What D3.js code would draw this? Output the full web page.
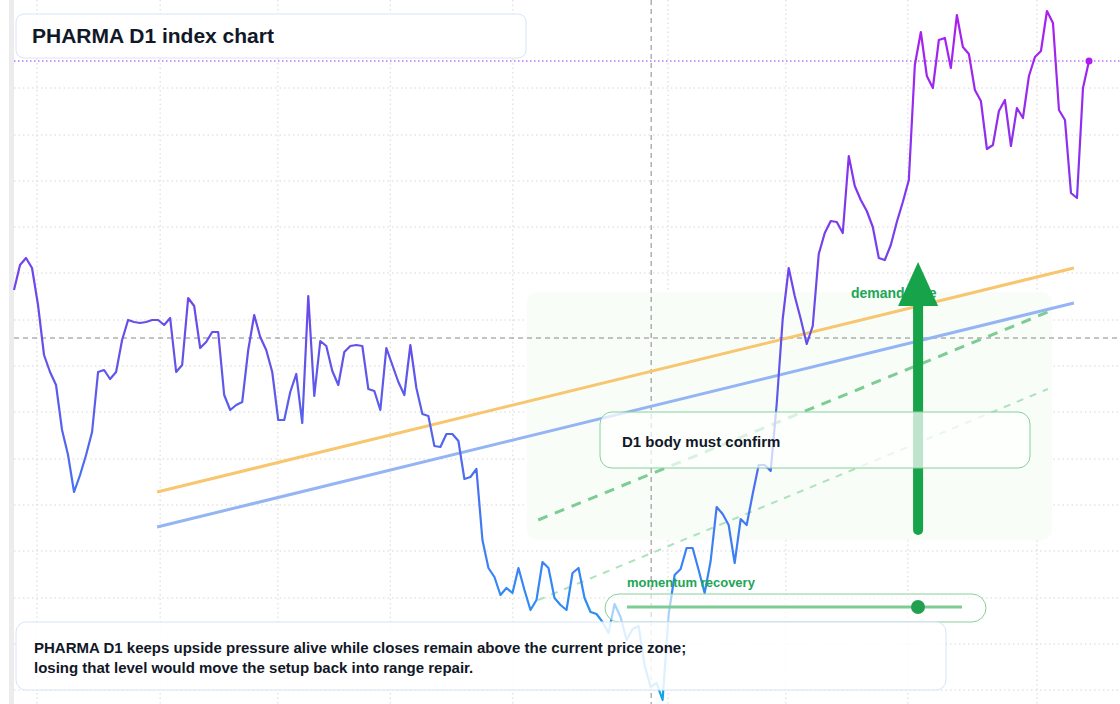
<!DOCTYPE html>
<html>
<head>
<meta charset="utf-8">
<script src="https://cdn.jsdelivr.net/npm/d3@7"></script>
<style>
  body { margin: 0; background: #fff; font-family: "Liberation Sans", Arial, sans-serif; }
</style>
</head>
<body>
<div id="chart"></div>
<script>
// Daily closes (index units)
const closes = [
  41.4, 43.9, 44.6, 43.6, 39.9, 34.9, 33.2, 31.9, 27.4, 24.9, 21.2, 22.9, 24.9, 27.2, 33.2, 33.4, 32.5, 33.2, 36.4, 38.4, 38.2,
  38.1, 38.2, 38.4, 38.4, 37.9, 38.6, 33.2, 33.9, 40.6, 39.8, 35.6, 36.2, 37.2, 37.2, 30.9, 29.4, 29.9, 30.2, 35.4, 38.9,
  36.7, 35.4, 33.2, 28.4, 28.4, 31.2, 33.0, 28.1, 40.8, 30.8, 36.3, 35.8, 33.3, 31.9, 35.2, 35.8, 35.9, 35.8, 31.5, 31.3,
  29.4, 35.6, 33.9, 32.2, 30.9, 35.9, 31.6, 29.0, 28.8, 25.8, 25.7, 27.0, 27.0, 26.3, 22.5, 22.7, 23.5, 16.4, 13.6, 12.7,
  10.9, 11.6, 11.1, 13.6, 11.4, 9.4, 10.4, 14.2, 13.6, 10.6, 9.9, 9.4, 13.1, 13.6, 10.6, 9.2, 9.0,
  8.2, 7.1, 10.0, 8.7, 6.4, 7.5, 7.8, 3.9, 1.7, 2.1, 0.4, 8.9, 12.9, 13.5, 15.6, 15.6, 13.4, 11.1, 14.3, 19.7,
  19.0, 17.9, 14.1, 18.5, 17.9, 21.0, 23.9, 23.9, 23.3, 30.0, 38.5, 43.6, 40.8, 38.5, 36.0, 37.8, 45.0, 47.1, 48.3, 48.2,
  47.1, 54.8, 51.8, 50.4, 49.3, 47.7, 44.6, 44.4, 45.9, 48.2, 50.2, 52.4, 63.9, 67.2, 62.8, 61.6, 66.4, 66.6, 63.6, 68.9,
  65.7, 65.0, 61.4, 60.3, 55.5, 55.9, 59.3, 60.4, 55.8, 59.6, 58.6, 62.8, 64.7, 65.3, 69.3, 68.1, 59.4, 58.4, 51.1, 50.6,
  61.6, 64.3
];
const gridPrices = [61.6, 56.9, 52.3, 47.7, 43.1, 38.4, 33.8, 29.2, 24.5, 19.9, 15.3, 10.6, 6.0, 1.4];
const gridBars = [3.8, 24.2, 43.7, 62.3, 82.6, 108.3, 127.8, 148, 169.4];
const currentLevel = 36.6;
const lastClose = 64.3;
const crossBar = 105.5;
const resistance = [[23.7, 21.2], [175.5, 43.6]];
const support = [[23.7, 17.7], [175.5, 40.1]];
const channelTop = [[86.8, 18.4], [171.2, 39.2]];
const channelLow = [[86.8, 10.4], [171.2, 31.5]];
const zone = { x0: 84.9, x1: 171.9, y0: 16.4, y1: 41.2 };
const arrowBar = 149.7, arrowFrom = 17.4, arrowTo = 44.2;
const noteLines = [
  "PHARMA D1 keeps upside pressure alive while closes remain above the current price zone;",
  "losing that level would move the setup back into range repair."
];

const W = 1120, H = 704;
const svg = d3.select("#chart").append("svg").attr("width", W).attr("height", H);

const x = d3.scaleLinear().domain([0, closes.length - 1]).range([14, 1089]);
const xb = d3.scaleLinear().domain([0, 178]).range([14, 1089]);
const y = d3.scaleLinear().domain([0, 70.4]).range([H, 0]);

// left strip
svg.append("rect").attr("x", 9).attr("y", 0).attr("width", 5).attr("height", H).attr("fill", "#ececec");

// grid
svg.selectAll(".gh").data(gridPrices).enter().append("line")
  .attr("x1", 14).attr("x2", W).attr("y1", d => y(d)).attr("y2", d => y(d))
  .attr("stroke", "#d6d6d6").attr("stroke-dasharray", "1.5,3");
svg.selectAll(".gv").data(gridBars).enter().append("line")
  .attr("y1", 0).attr("y2", H).attr("x1", d => xb(d)).attr("x2", d => xb(d))
  .attr("stroke", "#d6d6d6").attr("stroke-dasharray", "1.5,3");

// demand zone
svg.append("rect")
  .attr("x", xb(zone.x0)).attr("width", xb(zone.x1) - xb(zone.x0))
  .attr("y", y(zone.y1)).attr("height", y(zone.y0) - y(zone.y1))
  .attr("rx", 10).attr("fill", "#f8fdf8");

// reference levels
svg.append("line").attr("x1", 14).attr("x2", W).attr("y1", y(currentLevel)).attr("y2", y(currentLevel))
  .attr("stroke", "#888").attr("stroke-dasharray", "5,4");
svg.append("line").attr("x1", xb(crossBar)).attr("x2", xb(crossBar)).attr("y1", 0).attr("y2", H)
  .attr("stroke", "#888").attr("stroke-dasharray", "5,4");
svg.append("line").attr("x1", 14).attr("x2", W).attr("y1", y(lastClose)).attr("y2", y(lastClose))
  .attr("stroke", "#9a2cf0").attr("stroke-dasharray", "1.5,2.5");

const seg = d3.line().x(d => xb(d[0])).y(d => y(d[1]));
svg.append("path").attr("d", seg(resistance)).attr("fill", "none").attr("stroke", "#f7c66e").attr("stroke-width", 3);
svg.append("path").attr("d", seg(support)).attr("fill", "none").attr("stroke", "#94b4f4").attr("stroke-width", 3);
svg.append("path").attr("d", seg(channelTop)).attr("fill", "none").attr("stroke", "#7ccc94").attr("stroke-width", 3).attr("stroke-dasharray", "10,8");
svg.append("path").attr("d", seg(channelLow)).attr("fill", "none").attr("stroke", "#aee2bd").attr("stroke-width", 2).attr("stroke-dasharray", "7,7");

// price line with vertical gradient
const grad = svg.append("defs").append("linearGradient").attr("id", "pg")
  .attr("gradientUnits", "userSpaceOnUse").attr("x1", 0).attr("x2", 0).attr("y1", H).attr("y2", 0);
[[0, "#0ea5e9"], [0.2, "#3b82f6"], [0.5, "#6352e8"], [0.7, "#7c3aed"], [1, "#b01cf0"]]
  .forEach(s => grad.append("stop").attr("offset", s[0]).attr("stop-color", s[1]));
svg.append("path").datum(closes)
  .attr("d", d3.line().x((d, i) => x(i)).y(d => y(d)))
  .attr("fill", "none").attr("stroke", "url(#pg)").attr("stroke-width", 2.2).attr("stroke-linejoin", "round");
svg.append("circle").attr("cx", x(closes.length - 1)).attr("cy", y(lastClose)).attr("r", 3.5).attr("fill", "#b01cf0");

// demand label + arrow
svg.append("text").attr("x", 851).attr("y", 298).attr("fill", "#22a555")
  .attr("font-size", 14).attr("font-weight", "bold").text("demand side");
const ax = xb(arrowBar);
svg.append("line").attr("x1", ax).attr("x2", ax).attr("y1", y(arrowFrom)).attr("y2", y(arrowTo) + 40)
  .attr("stroke", "#16a34a").attr("stroke-width", 10).attr("stroke-linecap", "round");
svg.append("path")
  .attr("d", `M${ax},${y(arrowTo)} L${ax + 20},${y(arrowTo) + 44} L${ax - 20},${y(arrowTo) + 44} Z`)
  .attr("fill", "#16a34a");

// confirm box
svg.append("rect").attr("x", 600).attr("y", 412).attr("width", 430).attr("height", 56).attr("rx", 12)
  .attr("fill", "#fff").attr("fill-opacity", 0.72).attr("stroke", "#86d09c");
svg.append("text").attr("x", 622).attr("y", 447).attr("fill", "#111827")
  .attr("font-size", 15).attr("font-weight", "bold").text("D1 body must confirm");

// momentum slider
svg.append("text").attr("x", 627).attr("y", 587).attr("fill", "#22a555")
  .attr("font-size", 13).attr("font-weight", "bold").text("momentum recovery");
svg.append("rect").attr("x", 605).attr("y", 594).attr("width", 381).attr("height", 28).attr("rx", 14)
  .attr("fill", "#fff").attr("fill-opacity", 0.6).attr("stroke", "#86d09c");
svg.append("line").attr("x1", 627).attr("x2", 962).attr("y1", 607).attr("y2", 607)
  .attr("stroke", "#7ccc94").attr("stroke-width", 3);
svg.append("circle").attr("cx", 918).attr("cy", 607).attr("r", 7).attr("fill", "#22a050");

// title
svg.append("rect").attr("x", 16).attr("y", 14).attr("width", 510).attr("height", 44).attr("rx", 8)
  .attr("fill", "#fff").attr("fill-opacity", 0.9).attr("stroke", "#d8e4f6");
svg.append("text").attr("x", 32).attr("y", 43).attr("fill", "#111827")
  .attr("font-size", 21).attr("font-weight", "bold").text("PHARMA D1 index chart");

// note
svg.append("rect").attr("x", 16).attr("y", 622).attr("width", 930).attr("height", 68).attr("rx", 10)
  .attr("fill", "#fff").attr("fill-opacity", 0.85).attr("stroke", "#d8e4f6");
svg.selectAll(".note").data(noteLines).enter().append("text")
  .attr("x", 34).attr("y", (d, i) => 653 + i * 20).attr("fill", "#111827")
  .attr("font-size", 15).attr("font-weight", "bold").text(d => d);
</script>
</body>
</html>
